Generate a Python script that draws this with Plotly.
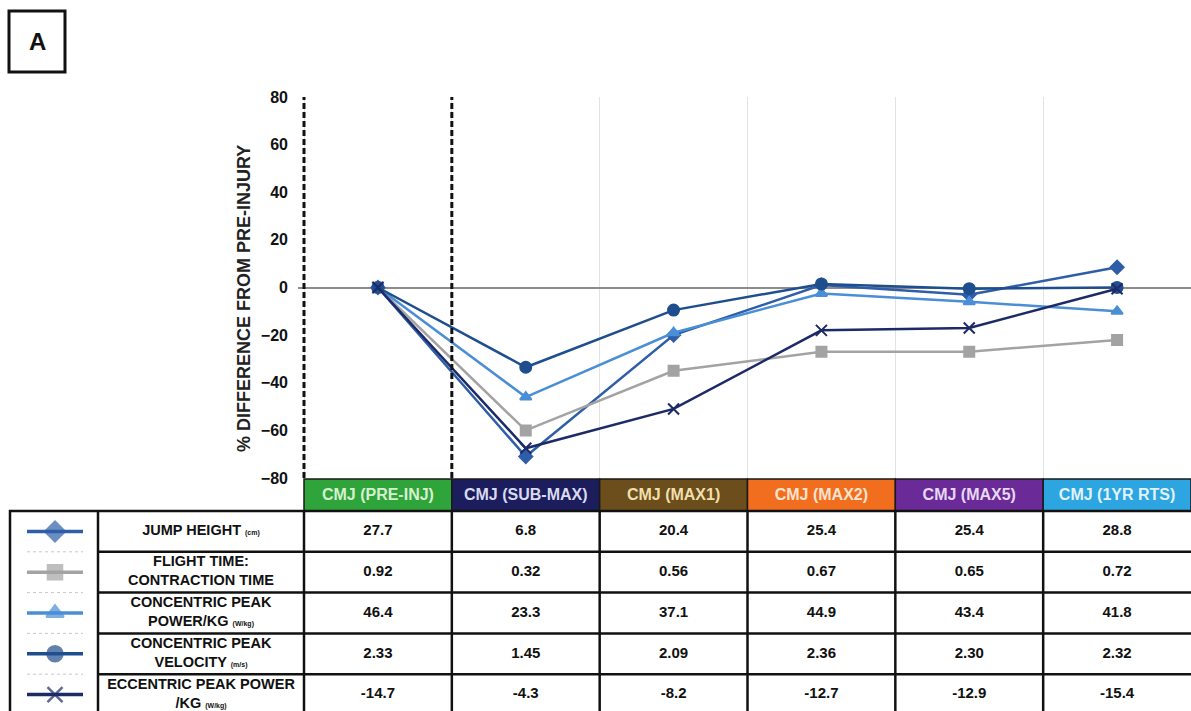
import plotly.graph_objects as go

# ---------------- data ----------------
categories = ["CMJ (PRE-INJ)", "CMJ (SUB-MAX)", "CMJ (MAX1)", "CMJ (MAX2)", "CMJ (MAX5)", "CMJ (1YR RTS)"]
header_colors = ["#2EA43A", "#1B1D5C", "#6B4E1B", "#F06E1E", "#6A2B98", "#2CA5E0"]
header_text_colors = ["#D6F0CF", "#D9DAF0", "#F0DFAE", "#FCE3D0", "#E6D9F3", "#E2F3FC"]

series_names = ["JUMP HEIGHT", "FLIGHT TIME:CONTRACTION TIME", "CONCENTRIC PEAK POWER/KG",
                "CONCENTRIC PEAK VELOCITY", "ECCENTRIC PEAK POWER/KG"]
pct_jump_height = [0, -71, -20, 1, -3, 8.5]
pct_ft_ct = [0, -60, -35, -27, -27, -22]
pct_conc_power = [0, -46, -19, -2.5, -6, -10]
pct_conc_velocity = [0, -33.5, -9.5, 1.5, -0.5, 0]
pct_ecc_power = [0, -67.5, -51, -18, -17, -0.5]

unit = '<span style="font-size:7px">{}</span>'
row_labels = [
    "JUMP HEIGHT " + unit.format("(cm)"),
    "FLIGHT TIME:<br>CONTRACTION TIME",
    "CONCENTRIC PEAK<br>POWER/KG " + unit.format("(W/kg)"),
    "CONCENTRIC PEAK<br>VELOCITY " + unit.format("(m/s)"),
    "ECCENTRIC PEAK POWER<br>/KG " + unit.format("(W/kg)"),
]
val_jump_height = [27.7, 6.8, 20.4, 25.4, 25.4, 28.8]
val_ft_ct = [0.92, 0.32, 0.56, 0.67, 0.65, 0.72]
val_conc_power = [46.4, 23.3, 37.1, 44.9, 43.4, 41.8]
val_conc_velocity = [2.33, 1.45, 2.09, 2.36, 2.30, 2.32]
val_ecc_power = [-14.7, -4.3, -8.2, -12.7, -12.9, -15.4]
row_decimals = [1, 2, 1, 2, 1]

y_ticks = [-80, -60, -40, -20, 0, 20, 40, 60, 80]
y_title = "% DIFFERENCE FROM PRE-INJURY"

# ---------------- styles / layout geometry (page pixels) ----------------
series_pct = [pct_jump_height, pct_ft_ct, pct_conc_power, pct_conc_velocity, pct_ecc_power]
series_vals = [val_jump_height, val_ft_ct, val_conc_power, val_conc_velocity, val_ecc_power]
colors = ["#2F5EA9", "#A3A3A3", "#4A8ED6", "#1F4E8E", "#1D2A68"]
symbols = ["diamond", "square", "triangle-up", "circle", "x-thin"]
msizes = [10, 10, 10, 11, 11]
leg_sizes = [15, 14, 15, 15, 15]

W, H = 1191, 711
px_x = lambda p: p / W
px_y = lambda p: 1 - p / H

TBL_LEFT, LEG_RIGHT, LBL_RIGHT, TBL_RIGHT = 10, 98, 304, 1191
HDR_TOP, HDR_BOT, BODY_BOT = 479, 511, 715
ROW_H = 40.8
PLOT_LEFT = 298
n_cols = len(categories)
col_w = (TBL_RIGHT - LBL_RIGHT) / n_cols
col_edges = [LBL_RIGHT + i * col_w for i in range(n_cols + 1)]
col_centers = [(col_edges[i] + col_edges[i + 1]) / 2 for i in range(n_cols)]
row_edges = [HDR_BOT + i * ROW_H for i in range(len(series_names) + 1)]
row_centers = [(row_edges[i] + row_edges[i + 1]) / 2 for i in range(len(series_names))]

fig = go.Figure()
xs = list(range(n_cols))

# ---------------- main line chart ----------------
for i in range(len(series_names)):
    fig.add_trace(go.Scatter(
        x=xs, y=series_pct[i], mode="lines+markers", name=series_names[i],
        line=dict(color=colors[i], width=2.5),
        marker=dict(symbol=symbols[i], size=msizes[i], color=colors[i],
                    line=dict(color=colors[i], width=2)),
        xaxis="x", yaxis="y", showlegend=False))

# ---------------- table (drawn on a page-pixel axis) ----------------
for i in range(len(series_names)):
    fig.add_trace(go.Scatter(
        x=[27, 55, 83], y=[row_centers[i]] * 3, mode="lines+markers",
        line=dict(color=colors[i], width=3.5),
        marker=dict(symbol=symbols[i], size=[0, leg_sizes[i], 0], color=colors[i],
                    line=dict(color=colors[i], width=2.5)),
        xaxis="x4", yaxis="y4", showlegend=False, hoverinfo="skip"))

fig.add_trace(go.Scatter(
    x=col_centers, y=[(HDR_TOP + HDR_BOT) / 2 + 1] * n_cols, mode="text", text=categories,
    textposition="middle center",
    textfont=dict(family="Liberation Sans", size=16, color=header_text_colors, weight="bold"),
    xaxis="x4", yaxis="y4", showlegend=False, hoverinfo="skip"))

fig.add_trace(go.Scatter(
    x=[(LEG_RIGHT + LBL_RIGHT) / 2] * len(row_labels), y=row_centers, mode="text",
    text=row_labels, textposition="middle center",
    textfont=dict(family="Liberation Sans", size=14.5, color="#111111", weight="bold"),
    xaxis="x4", yaxis="y4", showlegend=False, hoverinfo="skip"))

for c in range(n_cols):
    txt = [f"{series_vals[r][c]:.{row_decimals[r]}f}" for r in range(len(series_names))]
    fig.add_trace(go.Scatter(
        x=[col_centers[c]] * len(txt), y=row_centers, mode="text", text=txt,
        textposition="middle center",
        textfont=dict(family="Liberation Sans", size=15, color="#111111", weight="bold"),
        xaxis="x4", yaxis="y4", showlegend=False, hoverinfo="skip"))

shapes = []
for c in range(n_cols):
    shapes.append(dict(type="rect", xref="x4", yref="y4", layer="below",
                       x0=col_edges[c], x1=col_edges[c + 1], y0=HDR_TOP, y1=HDR_BOT,
                       fillcolor=header_colors[c], line=dict(color="#1a1a1a", width=1.5)))
shapes.append(dict(type="rect", xref="x4", yref="y4", layer="above",
                   x0=TBL_LEFT, x1=TBL_RIGHT + 2, y0=HDR_BOT, y1=BODY_BOT,
                   line=dict(color="#111111", width=2.5)))
for xv in [LEG_RIGHT] + col_edges[:-1]:
    shapes.append(dict(type="line", xref="x4", yref="y4", layer="above",
                       x0=xv, x1=xv, y0=HDR_BOT, y1=BODY_BOT,
                       line=dict(color="#111111", width=2.5)))
for yv in row_edges[1:-1]:
    shapes.append(dict(type="line", xref="x4", yref="y4", layer="above",
                       x0=LEG_RIGHT, x1=TBL_RIGHT, y0=yv, y1=yv,
                       line=dict(color="#111111", width=2.5)))
    shapes.append(dict(type="line", xref="x4", yref="y4", layer="above",
                       x0=27, x1=83, y0=yv, y1=yv,
                       line=dict(color="#C8C8C8", width=1, dash="dot")))

# dashed separator lines on chart
for xv in [-0.5, 0.5]:
    shapes.append(dict(type="line", xref="x", yref="y", x0=xv, x1=xv, y0=-80, y1=80,
                       line=dict(color="#111111", width=3, dash="6px,3px")))

# panel label box
shapes.append(dict(type="rect", xref="paper", yref="paper",
                   x0=px_x(9), x1=px_x(65), y0=px_y(72), y1=px_y(11),
                   line=dict(color="#111111", width=3), fillcolor="white"))

x_lo = -0.5 - (LBL_RIGHT - PLOT_LEFT) / col_w

fig.update_layout(
    width=W, height=H, margin=dict(l=0, r=0, t=0, b=0, autoexpand=False),
    paper_bgcolor="white", plot_bgcolor="rgba(0,0,0,0)",
    font=dict(family="Liberation Sans", color="#111111"),
    xaxis=dict(domain=[px_x(PLOT_LEFT), 1], range=[x_lo, 5.5], showticklabels=False,
               showgrid=True, gridcolor="#E3E3E3", gridwidth=1,
               tick0=0.5, dtick=1, zeroline=False, showline=False, ticks="",
               automargin=False),
    yaxis=dict(domain=[px_y(478), px_y(97)], range=[-80, 80], tickvals=y_ticks,
               showgrid=False, zeroline=True, zerolinecolor="#8C8C8C", zerolinewidth=1.5,
               showline=False, ticks="", ticklabelstandoff=9, automargin=False,
               tickfont=dict(family="Liberation Sans", size=16, color="#111111", weight="bold")),
    xaxis4=dict(domain=[0, 1], range=[0, W], visible=False, fixedrange=True),
    yaxis4=dict(domain=[0, px_y(470)], range=[H, 470], visible=False, fixedrange=True),
    shapes=shapes,
)

fig.add_annotation(text=y_title, xref="paper", yref="paper",
                   x=px_x(244), y=px_y(299), xanchor="center", yanchor="middle",
                   textangle=-90, showarrow=False,
                   font=dict(family="Liberation Sans", size=18, color="#222222", weight="bold"))

fig.add_annotation(text="<b>A</b>", xref="paper", yref="paper",
                   x=px_x(37), y=px_y(41.5), xanchor="center", yanchor="middle",
                   showarrow=False,
                   font=dict(family="Liberation Sans", size=24, color="#111111"))

fig.write_html("out.html", config={"displayModeBar": False},
               post_script="document.body.style.margin='0';document.body.style.overflow='hidden';")
